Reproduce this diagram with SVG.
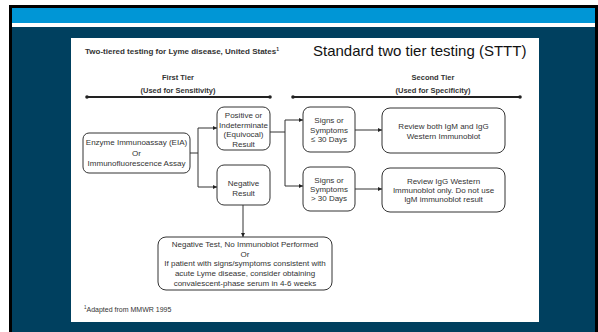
<svg xmlns="http://www.w3.org/2000/svg" width="598" height="332" viewBox="0 0 598 332">
<defs>
<style>
.box{fill:#fff;stroke:#333;stroke-width:1}
.t{font-family:"Liberation Sans",Arial,sans-serif;font-size:8px;fill:#333;text-anchor:middle}
.h{font-family:"Liberation Sans",Arial,sans-serif;font-size:7.5px;font-weight:bold;fill:#333;text-anchor:middle}
.c{fill:none;stroke:#333;stroke-width:1}
.tier{stroke:#222;stroke-width:2}
</style>
<marker id="ah" viewBox="0 0 10 10" refX="10" refY="5" markerWidth="4" markerHeight="4" markerUnits="userSpaceOnUse" orient="auto"><path d="M0,0 L10,5 L0,10 z" fill="#222"/></marker>
</defs>
<rect width="598" height="332" fill="#fff"/>
<rect x="9" y="5" width="589" height="327" fill="#000"/>
<rect x="12" y="8" width="583" height="324" fill="#00405f"/>
<rect x="12" y="8" width="583" height="15" fill="#0096d6"/>
<rect x="12" y="23" width="583" height="4" fill="#fff"/>
<rect x="71" y="38" width="468" height="284" fill="#fff"/>

<g id="titles">
<text x="85" y="54" style="font-family:'Liberation Sans',Arial,sans-serif;font-size:8px;font-weight:bold;fill:#333">Two-tiered testing for Lyme disease, United States<tspan font-size="5" dy="-3">1</tspan></text>
<text x="313" y="56" style="font-family:'Liberation Sans',Arial,sans-serif;font-size:15px;fill:#111">Standard two tier testing (STTT)</text>
<text x="84" y="312" style="font-family:'Liberation Sans',Arial,sans-serif;font-size:7px;fill:#333"><tspan font-size="4.5" dy="-3">1</tspan><tspan dy="3">Adapted from MMWR 1995</tspan></text>
</g>

<g id="tier1">
<text class="h" x="178" y="80">First Tier</text>
<text class="h" x="178" y="93">(Used for Sensitivity)</text>
<line class="tier" x1="87" y1="97" x2="270" y2="97"/>
<circle cx="87" cy="97" r="1.8" fill="#222"/>
<circle cx="270" cy="97" r="1.8" fill="#222"/>
</g>
<g id="tier2">
<text class="h" x="433" y="80">Second Tier</text>
<text class="h" x="433" y="93">(Used for Specificity)</text>
<line class="tier" x1="293" y1="97" x2="520" y2="97"/>
<circle cx="293" cy="97" r="1.8" fill="#222"/>
<circle cx="520" cy="97" r="1.8" fill="#222"/>
</g>

<g id="connectors">
<polyline class="c" points="190,153 198,153"/>
<polyline class="c" points="198,128 198,187"/>
<line class="c" x1="198" y1="128" x2="217" y2="128" marker-end="url(#ah)"/>
<line class="c" x1="198" y1="187" x2="217" y2="187" marker-end="url(#ah)"/>
<polyline class="c" points="270,132 285,132"/>
<polyline class="c" points="285,120 285,186"/>
<line class="c" x1="285" y1="120" x2="303" y2="120" marker-end="url(#ah)"/>
<line class="c" x1="285" y1="186" x2="303" y2="186" marker-end="url(#ah)"/>
<line class="c" x1="355" y1="130" x2="382" y2="130" marker-end="url(#ah)"/>
<line class="c" x1="355" y1="189" x2="382" y2="189" marker-end="url(#ah)"/>
<line class="c" x1="243" y1="205" x2="243" y2="237" marker-end="url(#ah)"/>
</g>

<g id="eia">
<rect class="box" x="83" y="133" width="107" height="40" rx="6"/>
<text class="t" x="136.5" y="145">Enzyme Immunoassay (EIA)</text>
<text class="t" x="136.5" y="155.5">Or</text>
<text class="t" x="136.5" y="166">Immunofluorescence Assay</text>
</g>
<g id="positive">
<rect class="box" x="217" y="107" width="53" height="43" rx="7"/>
<text class="t" x="243.5" y="118">Positive or</text>
<text class="t" x="243.5" y="127.5">Indeterminate</text>
<text class="t" x="243.5" y="137">(Equivocal)</text>
<text class="t" x="243.5" y="146.5">Result</text>
</g>
<g id="negative">
<rect class="box" x="217" y="165" width="53" height="40" rx="7"/>
<text class="t" x="243.5" y="186">Negative</text>
<text class="t" x="243.5" y="196">Result</text>
</g>
<g id="signs1">
<rect class="box" x="303" y="107" width="52" height="45" rx="7"/>
<text class="t" x="329" y="123">Signs or</text>
<text class="t" x="329" y="132.5">Symptoms</text>
<text class="t" x="329" y="142">≤ 30 Days</text>
</g>
<g id="signs2">
<rect class="box" x="303" y="167" width="52" height="44" rx="7"/>
<text class="t" x="329" y="183">Signs or</text>
<text class="t" x="329" y="192">Symptoms</text>
<text class="t" x="329" y="201">&gt; 30 Days</text>
</g>
<g id="review1">
<rect class="box" x="382" y="108" width="123" height="45" rx="8"/>
<text class="t" x="443.5" y="129">Review both IgM and IgG</text>
<text class="t" x="443.5" y="139">Western Immunoblot</text>
</g>
<g id="review2">
<rect class="box" x="382" y="168" width="123" height="44" rx="8"/>
<text class="t" x="443.5" y="184">Review IgG Western</text>
<text class="t" x="443.5" y="193">Immunoblot only. Do not use</text>
<text class="t" x="443.5" y="202">IgM immunoblot result</text>
</g>
<g id="negtest">
<rect class="box" x="158" y="237" width="174" height="53" rx="8"/>
<text class="t" x="245" y="247">Negative Test, No Immunoblot Performed</text>
<text class="t" x="245" y="256.5">Or</text>
<text class="t" x="245" y="266">If patient with signs/symptoms consistent with</text>
<text class="t" x="245" y="276">acute Lyme disease, consider obtaining</text>
<text class="t" x="245" y="286">convalescent-phase serum in 4-6 weeks</text>
</g>
</svg>
